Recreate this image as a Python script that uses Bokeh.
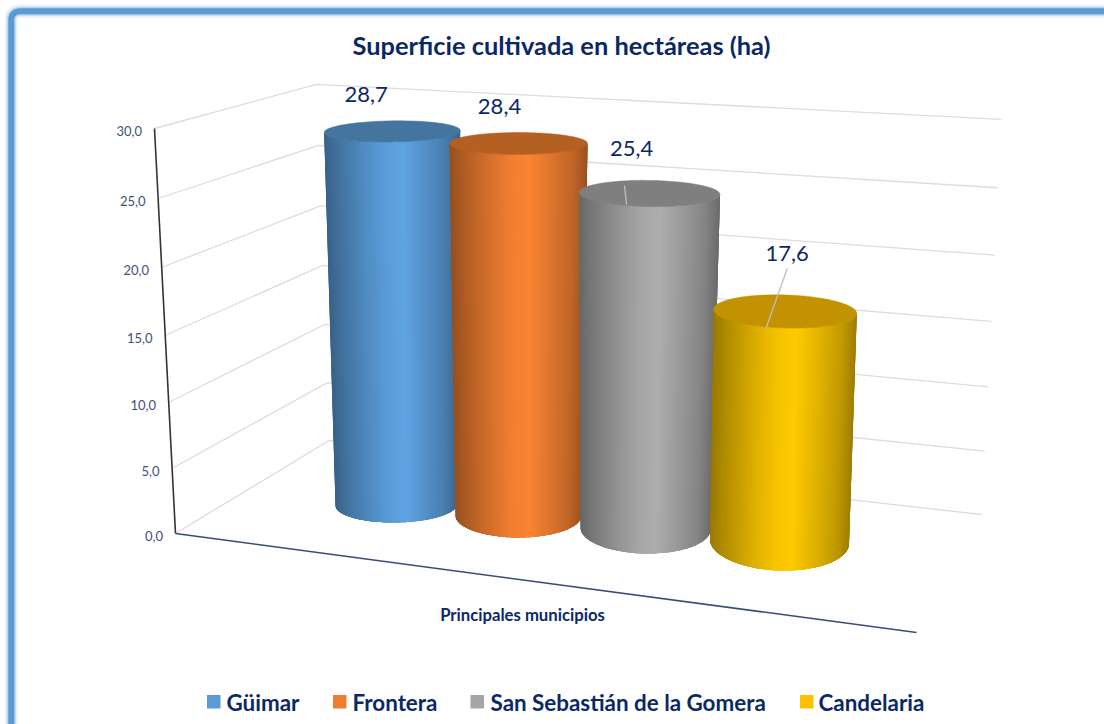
import numpy as np
from bokeh.plotting import figure
from bokeh.models import Range1d
from bokeh.core.properties import value
from bokeh.embed import file_html
from bokeh.resources import INLINE

# ---- data ----
municipios = ["Güimar", "Frontera", "San Sebastián de la Gomera", "Candelaria"]
superficie = [28.7, 28.4, 25.4, 17.6]
axis_ticks = [0, 5, 10, 15, 20, 25, 30]
title_text = "Superficie cultivada en hectáreas (ha)"
axis_title = "Principales municipios"

# ---- styles ----
colors_center = ["#5ea3e3", "#fb8433", "#adadad", "#ffca00"]
colors_top = ["#44759f", "#b56023", "#7f7f7f", "#c29200"]
legend_colors = ["#5b9bd5", "#ed7d31", "#a5a5a5", "#ffc000"]
NAVY = "#0b2866"
FONT = "Lato"

# ---- layout of the 3D scene (screen-like units) ----
base_cx = [396, 518, 645, 779]
base_cy = [504, 515, 528, 541]
base_rx = [61, 63, 65, 69.5]
rx_gain = [0.244, 0.21, 0.216, 0.114]
base_ry = [18, 22, 25, 29]
ry_gain = [0.26, 0.39, 0.47, 0.71]
unit = [13.0, 13.1, 13.19, 13.07]
LEAN = 0.00125
label_off = [(-26, -37), (-19, -37), (-18, -45), (2, -58)]
leader = [None, None, ((-7, 37), (-23, 11)), ((0, 15), (-19, 16))]
legend_sq = [206.5, 332.5, 470, 799.5]
legend_tx = [226, 352, 490, 818]

p = figure(width=1104, height=724, x_range=Range1d(0, 1104), y_range=Range1d(724, 0),
           x_axis_type=None, y_axis_type=None, toolbar_location=None,
           output_backend="svg", min_border=0, outline_line_color=None,
           background_fill_color="white", border_fill_color="white")
p.grid.visible = False


def txt(x, y, s, size, color=NAVY, bold=False, align="center"):
    p.text([x], [y], text=[s], text_font=value(FONT), text_font_size=f"{size}px",
           text_color=color, text_align=align, text_baseline="middle",
           text_font_style="bold" if bold else "normal")


# frame: only top and left sides are inside the picture
a = np.linspace(np.pi, 1.5 * np.pi, 12)
R = 8
C = 10.8
fx = [C] + list(C + R + R * np.cos(a)) + [1110]
fy = [730] + list(C + R + R * np.sin(a)) + [C]
for w, c, al in [(13, "#bdd7ee", 0.35), (9, "#9dc3e6", 0.6), (6, "#5b9bd5", 1.0)]:
    p.line(fx, fy, line_width=w, line_color=c, line_alpha=al)


# walls
def front(v):
    return 175 - 0.7 * v, 533 - 12.9 * v - 0.02 * v * v


def corner(v):
    return 328.5 - 0.417 * v, 440 - 11.47 * v - 0.0133 * v * v


def right(v):
    return 981 + 0.667 * v, 514 - 12.57 * v - 0.02 * v * v


for v in axis_ticks:
    a0, a1, a2 = front(v), corner(v), right(v)
    p.line([a0[0], a1[0], a2[0]], [a0[1], a1[1], a2[1]], line_color="#dcdcdc", line_width=1.3)
    txt(a0[0] - 12.5, a0[1] + 2, f"{v:.1f}".replace(".", ","), 13, color="#3f4f7c", align="right")

vmax = axis_ticks[-1]
p.line([front(0)[0], front(vmax)[0]], [front(0)[1], front(vmax)[1]], line_color="#333333", line_width=1.6)
p.line([front(0)[0], 916], [front(0)[1], 632], line_color="#3a4a7c", line_width=1.5)


# cylinders
def ellipse_pts(cx, cy, rx, ry, theta):
    tilt = (cx - 518) * 0.008
    return cx + rx * np.cos(theta), cy + ry * np.sin(theta) + tilt * np.cos(theta)


def shade(hexcolor, t):
    f = np.interp(t, [0, 0.08, 0.3, 0.45, 0.58, 0.72, 0.9, 1.0],
                  [0.60, 0.68, 0.86, 0.96, 1.0, 0.90, 0.76, 0.62])
    rgb = [int(hexcolor[i:i + 2], 16) for i in (1, 3, 5)]
    return "#%02x%02x%02x" % tuple(int(round(c * f)) for c in rgb)


N = 70
OVER = 4  # each strip runs under the next ones, so no seams show
theta = np.linspace(np.pi, 0, N + 1)
full = np.linspace(0, 2 * np.pi, 121)
for i, v in enumerate(superficie):
    bx, by = base_cx[i], base_cy[i]
    tx = bx + (bx - 518) * v * LEAN
    ty = by - unit[i] * v
    rb, rt = base_rx[i], base_rx[i] + rx_gain[i] * v
    hb, ht = base_ry[i], base_ry[i] - ry_gain[i] * v
    xb, yb = ellipse_pts(bx, by, rb, hb, theta)
    xt, yt = ellipse_pts(tx, ty, rt, ht, theta)
    xs, ys, cols = [], [], []
    for k in range(N):
        e = min(k + OVER, N)
        xs.append(list(xt[k:e + 1]) + list(xb[k:e + 1][::-1]))
        ys.append(list(yt[k:e + 1]) + list(yb[k:e + 1][::-1]))
        tm = (1 + np.cos((theta[k] + theta[k + 1]) / 2)) / 2
        cols.append(shade(colors_center[i], tm))
    p.patches(xs, ys, fill_color=cols, line_color=None)
    ex, ey = ellipse_pts(tx, ty, rt, ht, full)
    p.patch(ex, ey, fill_color=colors_top[i], line_color=colors_top[i], line_width=0.5)

    lx, ly = tx + label_off[i][0], ty + label_off[i][1]
    if leader[i]:
        (d0, d1) = leader[i]
        p.line([lx + d0[0], tx + d1[0]], [ly + d0[1], ty + d1[1]], line_color="#bfbfbf", line_width=1.3)
    txt(lx, ly, f"{v:.1f}".replace(".", ","), 22)

# titles
txt(561, 44, title_text, 25.4, bold=True)
txt(522, 614, axis_title, 16.7, bold=True)

# legend
for i, name in enumerate(municipios):
    x0 = legend_sq[i]
    p.quad(left=[x0], right=[x0 + 13.5], top=[694.5], bottom=[708], fill_color=legend_colors[i], line_color=None)
    txt(legend_tx[i], 701.5, name, 22.4, bold=True, align="left")

open("out.html", "w").write(file_html(p, INLINE))
